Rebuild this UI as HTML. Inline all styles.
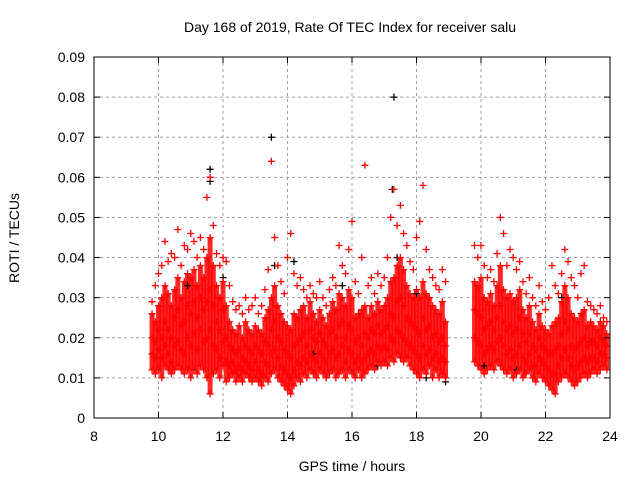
<!DOCTYPE html>
<html><head><meta charset="utf-8"><style>
html,body{margin:0;padding:0;background:#fff;width:640px;height:480px;overflow:hidden}
svg text{font-family:"Liberation Sans",sans-serif;font-size:14px;fill:#000}
</style></head><body>
<svg id="chart" width="640" height="480" xmlns="http://www.w3.org/2000/svg">
<rect width="640" height="480" fill="#fff"/>
<text x="350" y="32" text-anchor="middle">Day 168 of 2019, Rate Of TEC Index for receiver salu</text>
<text x="352" y="471" text-anchor="middle">GPS time / hours</text>
<text transform="translate(19,238) rotate(-90)" text-anchor="middle">ROTI / TECUs</text>
<g id="grid"></g><g id="bands"></g><g id="marks"></g><g id="axes"></g>
</svg>
<script>
const xTicks=[8,10,12,14,16,18,20,22,24];
const yTicks=[0,0.01,0.02,0.03,0.04,0.05,0.06,0.07,0.08,0.09];
const yTickLabels=["0","0.01","0.02","0.03","0.04","0.05","0.06","0.07","0.08","0.09"];
const hours=[9.8,9.9,10.0,10.1,10.2,10.3,10.4,10.5,10.6,10.7,10.8,10.9,11.0,11.1,11.2,11.3,11.4,11.5,11.6,11.7,11.8,11.9,12.0,12.1,12.2,12.3,12.4,12.5,12.6,12.7,12.8,12.9,13.0,13.1,13.2,13.3,13.4,13.5,13.6,13.7,13.8,13.9,14.0,14.1,14.2,14.3,14.4,14.5,14.6,14.7,14.8,14.9,15.0,15.1,15.2,15.3,15.4,15.5,15.6,15.7,15.8,15.9,16.0,16.1,16.2,16.3,16.4,16.5,16.6,16.7,16.8,16.9,17.0,17.1,17.2,17.3,17.4,17.5,17.6,17.7,17.8,17.9,18.0,18.1,18.2,18.3,18.4,18.5,18.6,18.7,18.8,18.9,19.8,19.9,20.0,20.1,20.2,20.3,20.4,20.5,20.6,20.7,20.8,20.9,21.0,21.1,21.2,21.3,21.4,21.5,21.6,21.7,21.8,21.9,22.0,22.1,22.2,22.3,22.4,22.5,22.6,22.7,22.8,22.9,23.0,23.1,23.2,23.3,23.4,23.5,23.6,23.7,23.8,23.9];
// values in units of 0.001 TECU
const rotiMin=[12,11,12,10,13,12,11,12,13,12,11,12,10,12,11,13,12,10,6,11,12,10,13,9,10,11,9,10,9,11,10,9,10,9,8,10,9,11,12,10,9,8,7,6,8,10,9,11,10,12,11,10,12,11,10,11,12,10,11,12,10,12,11,10,12,10,11,12,13,12,14,13,14,13,15,14,16,15,14,15,13,12,11,10,12,11,13,10,12,10,11,10,14,13,12,11,12,13,12,14,13,12,11,12,10,11,12,10,11,12,10,9,11,10,9,8,7,6,9,10,11,10,9,8,9,10,11,10,11,12,11,12,13,12];
const rotiQ1=[16,15,17,15,18,16,14,18,19,17,16,20,18,21,17,22,19,20,22,18,17,15,19,14,13,14,12,13,12,14,13,12,14,12,11,14,13,16,17,15,13,12,11,10,12,14,13,15,14,16,15,14,16,15,14,16,17,15,16,18,14,17,16,14,15,14,15,16,17,16,18,17,18,17,20,19,22,21,20,19,18,17,16,15,18,16,17,15,16,14,15,14,20,19,18,16,17,18,17,19,20,18,16,17,15,16,18,15,14,16,13,13,15,14,13,12,11,11,13,15,17,15,13,12,13,14,15,14,15,15,14,16,16,15];
const rotiMid=[20,19,22,20,24,22,20,25,27,23,24,28,26,29,25,30,27,29,32,28,24,22,27,20,18,17,16,17,15,18,17,16,18,17,16,19,18,22,24,20,19,17,16,15,18,19,20,21,18,22,20,19,21,19,18,21,22,20,23,24,20,23,22,19,20,18,21,20,22,21,23,21,22,23,26,25,29,30,28,25,24,23,22,21,25,22,23,20,21,19,20,18,27,26,25,22,23,24,22,25,28,24,22,23,21,22,25,21,19,21,18,17,20,18,17,16,16,17,18,21,24,22,18,17,18,19,20,18,19,19,18,20,19,18];
const rotiQ3=[26,24,28,30,33,31,28,32,35,30,34,36,35,37,33,38,35,40,45,38,33,30,34,28,24,22,21,23,20,24,22,21,23,22,21,25,27,30,33,28,26,24,23,22,26,25,27,28,25,29,26,24,27,25,23,26,29,27,31,30,28,32,30,25,26,27,28,25,28,26,29,27,28,30,34,35,38,40,37,33,31,30,32,30,34,31,30,28,27,26,29,24,34,33,35,30,29,31,28,33,38,32,30,31,29,30,32,27,25,28,24,22,26,23,22,21,23,24,25,29,33,30,26,25,24,26,27,23,24,23,22,24,23,21];
const rotiMax=[29,33,36,38,44,39,41,40,47,38,43,42,46,44,40,45,42,55,60,48,41,38,40,39,33,29,27,28,26,30,27,28,30,26,28,32,37,64,45,38,34,31,40,46,36,33,35,32,30,33,31,30,34,30,28,32,35,33,43,38,36,42,49,34,31,40,63,33,35,31,36,33,35,40,50,57,48,53,46,43,39,37,45,49,58,42,37,35,33,32,37,34,43,40,43,38,35,37,34,41,50,46,38,42,40,37,39,34,31,35,30,28,33,29,27,30,38,33,31,36,42,39,35,33,30,36,38,29,28,27,26,28,25,24];
const blackHours=[11.6,11.6,13.5,17.3,17.25,10.9,12.0,13.6,14.2,15.7,17.4,18.0,18.3,18.9,20.1,21.1,22.5,23.4,16.8,14.8];
const blackRoti=[62,59,70,80,57,33,35,38,39,33,40,31,10,9,13,12,30,19,13,16];

const X0=94,X1=610,Y0=418,Y1=57;
const xs=h=>X0+(h-8)/(24-8)*(X1-X0);
const ys=v=>Y0-v/0.09*(Y0-Y1);
const NS="http://www.w3.org/2000/svg";
function mk(tag,parent,attrs){const e=document.createElementNS(NS,tag);for(const k in attrs)e.setAttribute(k,attrs[k]);document.getElementById(parent).appendChild(e);return e;}

xTicks.forEach(t=>{
  const x=xs(t);
  if(t>8&&t<24){const g=mk('line','grid',{x1:x,x2:x,y1:Y1,y2:Y0,stroke:'#a0a0a0','stroke-dasharray':'3,3'});
  
  }
  mk('line','axes',{x1:x,x2:x,y1:Y0,y2:Y0-6,stroke:'#000'});
  mk('line','axes',{x1:x,x2:x,y1:Y1,y2:Y1+6,stroke:'#000'});
  const tx=mk('text','axes',{x:x,y:Y0+23,'text-anchor':'middle'});
  tx.textContent=t;
  
  
});
yTicks.forEach((t,i)=>{
  const y=ys(t);
  if(i>0&&i<yTicks.length-1){const g=mk('line','grid',{x1:X0,x2:X1,y1:y,y2:y,stroke:'#a0a0a0','stroke-dasharray':'3,3'});
  
  }
  mk('line','axes',{x1:X0,x2:X0+6,y1:y,y2:y,stroke:'#000'});
  mk('line','axes',{x1:X1,x2:X1-6,y1:y,y2:y,stroke:'#000'});
  const tx=mk('text','axes',{x:X0-9,y:y+5,'text-anchor':'end'});
  tx.textContent=yTickLabels[i];
  
  
});
const fr=mk('rect','axes',{x:X0,y:Y1,width:X1-X0,height:Y0-Y1,fill:'none',stroke:'#000'});



function plus(h,v,color,name){
  const x=xs(h),y=ys(v/1000);
  const p=mk('path','marks',{d:`M${x-3.5},${y}h7M${x},${y-3.5}v7`,stroke:color,'stroke-width':1.3,fill:'none'});
  
  
}
hours.forEach((h,i)=>{
  const b=mk('rect','bands',{x:xs(h)-2.5,width:5,y:ys(rotiQ3[i]/1000),height:ys(rotiMin[i]/1000)-ys(rotiQ3[i]/1000),fill:'#ff0000',opacity:0.85});
  
  
});
blackHours.forEach((h,i)=>plus(h,blackRoti[i],'#000','roti-point-black'));
hours.forEach((h,i)=>{
  [rotiMin,rotiQ1,rotiMid,rotiQ3,rotiMax].forEach(arr=>plus(h,arr[i],'#ff0000','roti-point'));
});
</script>
</body></html>
